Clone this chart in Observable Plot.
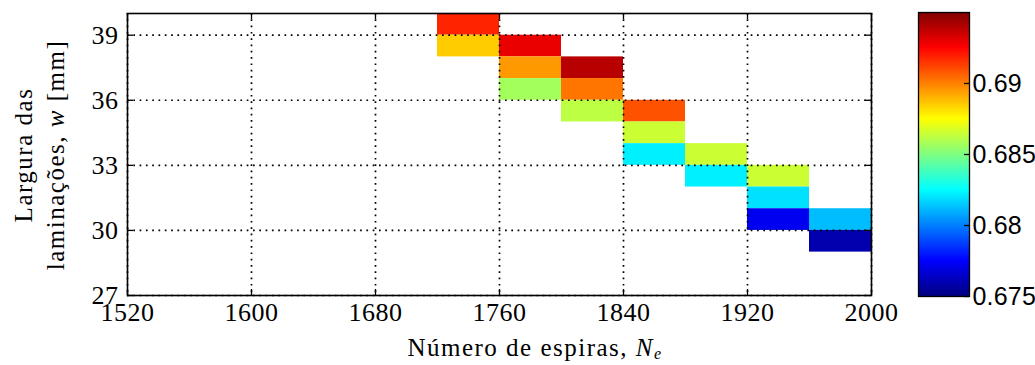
<!DOCTYPE html>
<html>
<head>
<meta charset="utf-8">
<script src="https://cdn.jsdelivr.net/npm/d3@7"></script>
<script src="https://cdn.jsdelivr.net/npm/@observablehq/plot@0.6"></script>
<style>
  html, body { margin: 0; padding: 0; background: #fff; }
  #wrap { position: relative; width: 1035px; height: 365px; overflow: hidden; }
  #wrap svg { position: absolute; top: 0; }
  #main text { font-family: "Liberation Serif", serif; }
  #cbar text { font-family: "Liberation Sans Narrow", "Liberation Sans", sans-serif; }
</style>
</head>
<body>
<div id="wrap"></div>
<script>
// ---- data ----
const espiras = [1720, 1720, 1760, 1760, 1760, 1800, 1800, 1800, 1840, 1840, 1840, 1880, 1880, 1920, 1920, 1920, 1960, 1960];
const largura = [39, 38, 38, 37, 36, 37, 36, 35, 35, 34, 33, 33, 32, 32, 31, 30, 30, 29];
const valor   = [0.6918, 0.6885, 0.6929, 0.6895, 0.6857, 0.6939, 0.6902, 0.6862, 0.6909, 0.6865, 0.6822, 0.6865, 0.6822, 0.6865, 0.6819, 0.6772, 0.6812, 0.6759];
const passoEspiras = 40;
const passoLargura = 1;

const xDomain = [1520, 2000];
const yDomain = [27, 40];
const xTicks = [1520, 1600, 1680, 1760, 1840, 1920, 2000];
const yTicks = [27, 30, 33, 36, 39];

const cbDomain = [0.675, 0.695];
const cbTicks = [0.675, 0.68, 0.685, 0.69];
const jetStops = [0, 0.125, 0.375, 0.625, 0.875, 1];
const jetColors = ["#000080", "#0000ff", "#00ffff", "#ffff00", "#ff0000", "#800000"];

const xLabel = "Número de espiras, ";
const xLabelVar = "N";
const xLabelSub = "e";
const yLabel1 = "Largura das";
const yLabel2a = "laminações, ";
const yLabel2var = "w";
const yLabel2b = " [mm]";

// ---- build ----
const cells = espiras.map((n, i) => ({n, w: largura[i], v: valor[i]}));
const colorScale = {
  type: "linear",
  domain: jetStops.map(t => cbDomain[0] + t * (cbDomain[1] - cbDomain[0])),
  range: jetColors,
  interpolate: "rgb"
};

const W = 1035, H = 365, mL = 127, mR = 164, mT = 13, mB = 70;
const innerW = W - mL - mR, innerH = H - mT - mB;
const tickLen = 6;
const dots = {stroke: "#000", strokeOpacity: 1, strokeWidth: 1.7, strokeDasharray: "1.7,4.6"};

const main = Plot.plot({
  width: W, height: H,
  marginLeft: mL, marginRight: mR, marginTop: mT, marginBottom: mB,
  style: {fontSize: "26px", letterSpacing: "0.5px", color: "#000", background: "#fff"},
  x: {domain: xDomain},
  y: {domain: yDomain},
  color: colorScale,
  marks: [
    Plot.rect(cells, {x1: "n", x2: d => d.n + passoEspiras, y1: "w", y2: d => d.w + passoLargura, fill: "v"}),
    Plot.gridX(xTicks, dots),
    Plot.gridY(yTicks, dots),
    Plot.tickX(xTicks, {x: d => d, insetTop: innerH - tickLen, stroke: "#000", strokeWidth: 1.3}),
    Plot.tickX(xTicks, {x: d => d, insetBottom: innerH - tickLen, stroke: "#000", strokeWidth: 1.3}),
    Plot.tickY(yTicks, {y: d => d, insetRight: innerW - tickLen, stroke: "#000", strokeWidth: 1.3}),
    Plot.tickY(yTicks, {y: d => d, insetLeft: innerW - tickLen, stroke: "#000", strokeWidth: 1.3}),
    Plot.frame({stroke: "#000", strokeWidth: 1.6}),
    Plot.axisX(xTicks, {anchor: "bottom", tickSize: 0, tickPadding: 7, label: null, tickFormat: d => String(d)}),
    Plot.axisY(yTicks, {anchor: "left", tickSize: 0, tickPadding: 9, label: null, tickFormat: d => String(d)})
  ]
});
main.id = "main";

// axis titles (real text)
const s = d3.select(main);
const g = s.append("g")
  .attr("font-size", 25)
  .attr("letter-spacing", "1.5px").attr("fill", "#000");
g.append("text").attr("transform", "translate(32,155) rotate(-90)")
  .attr("text-anchor", "middle").text(yLabel1);
const t2 = g.append("text").attr("transform", "translate(64,155) rotate(-90)")
  .attr("text-anchor", "middle").style("white-space", "pre");
t2.append("tspan").text(yLabel2a);
t2.append("tspan").attr("font-style", "italic").text(yLabel2var);
t2.append("tspan").text(yLabel2b);
const tx = g.append("text").attr("x", 535).attr("y", 356)
  .attr("text-anchor", "middle").style("white-space", "pre");
tx.append("tspan").text(xLabel);
tx.append("tspan").attr("font-style", "italic").text(xLabelVar);
tx.append("tspan").attr("font-style", "italic").attr("font-size", 16).attr("dy", 3).text(xLabelSub);

document.getElementById("wrap").appendChild(main);

// ---- colorbar ----
const cbW = 135, cbL = 18, cbR = 66, cbT = 12, cbB = 69;
const cbInnerW = cbW - cbL - cbR;
const cbN = 284;
const cbStep = (cbDomain[1] - cbDomain[0]) / cbN;
const cbBands = d3.range(cbN).map(i => cbDomain[0] + i * cbStep);

const cb = Plot.plot({
  width: cbW, height: H,
  marginLeft: cbL, marginRight: cbR, marginTop: cbT, marginBottom: cbB,
  style: {fontSize: "25px", letterSpacing: "0.2px", color: "#000", background: "transparent"},
  x: {domain: [0, 1], axis: null},
  y: {domain: cbDomain},
  color: colorScale,
  marks: [
    Plot.rect(cbBands, {x1: 0, x2: 1, y1: d => d, y2: d => Math.min(d + 2 * cbStep, cbDomain[1]), fill: d => d + cbStep / 2}),
    Plot.tickY(cbTicks, {y: d => d, insetLeft: cbInnerW - 5, stroke: "#000", strokeWidth: 1.3}),
    Plot.frame({stroke: "#000", strokeWidth: 1.3}),
    Plot.axisY(cbTicks, {anchor: "right", tickSize: 0, tickPadding: 3, label: null, tickFormat: d => String(d)})
  ]
});
cb.id = "cbar";
cb.style.left = "900px";
document.getElementById("wrap").appendChild(cb);
</script>
</body>
</html>
